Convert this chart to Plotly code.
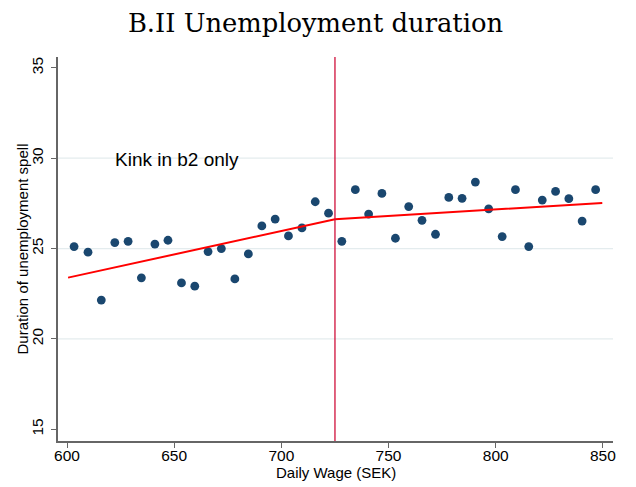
import plotly.graph_objects as go

wage = [603.3, 609.8, 616.0, 622.3, 628.5, 634.7, 641.0, 647.1, 653.4, 659.6,
        665.8, 672.0, 678.3, 684.6, 690.9, 697.1, 703.3, 709.6, 715.8, 722.0,
        728.2, 734.5, 740.7, 746.9, 753.2, 759.4, 765.6, 771.9, 778.1, 784.3,
        790.5, 796.7, 803.0, 809.2, 815.4, 821.7, 827.9, 834.1, 840.3, 846.6]
duration = [25.11, 24.80, 22.15, 25.33, 25.40, 23.38, 25.25, 25.46, 23.10, 22.92,
            24.83, 25.00, 23.32, 24.70, 26.25, 26.63, 25.70, 26.14, 27.59, 26.96,
            25.40, 28.26, 26.91, 28.05, 25.57, 27.32, 26.56, 25.79, 27.83, 27.78,
            28.68, 27.19, 25.66, 28.26, 25.11, 27.68, 28.16, 27.76, 26.52, 28.26]
fit_x = [600.5, 725.0, 849.7]
fit_y = [23.39, 26.62, 27.52]
kink = 725
x_ticks = [600, 650, 700, 750, 800, 850]
y_ticks = [15, 20, 25, 30, 35]
grid_y = [20, 25, 30]

fig = go.Figure()
for g in grid_y:
    fig.add_shape(type="line", x0=0, x1=1, xref="paper", y0=g, y1=g, yref="y",
                  line=dict(color="#e4ecee", width=1.2), layer="below")
fig.add_trace(go.Scatter(x=wage, y=duration, mode="markers",
                         marker=dict(color="#1a476f", size=8.8, line=dict(width=0)),
                         showlegend=False))
fig.add_trace(go.Scatter(x=fit_x, y=fit_y, mode="lines",
                         line=dict(color="#ff0000", width=2), showlegend=False))
fig.add_shape(type="line", x0=kink, x1=kink, y0=0, y1=1, xref="x", yref="paper",
              line=dict(color="#d0103a", width=1.3))
fig.add_annotation(x=651.5, y=29.95, text="Kink in b2 only", showarrow=False,
                   font=dict(family="Liberation Sans, Arial", size=19, color="#000"))
fig.add_annotation(x=0.5, xref="paper", y=-0.082, yref="paper", text="Daily Wage (SEK)",
                   showarrow=False, xanchor="center", yanchor="middle",
                   font=dict(family="Liberation Sans, Arial", size=15, color="#000"))
fig.add_annotation(x=-0.064, xref="paper", y=0.5, yref="paper",
                   text="Duration of unemployment spell", textangle=-90,
                   showarrow=False, xanchor="center", yanchor="middle",
                   font=dict(family="Liberation Sans, Arial", size=15, color="#000"))

fig.update_layout(
    width=620, height=479,
    margin=dict(l=50, r=15, t=49, b=46),
    paper_bgcolor="white", plot_bgcolor="white",
    title=dict(text="B.II Unemployment duration", x=0.496, xanchor="center",
               xref="container", y=1 - 15.0 / 479, yanchor="middle", yref="container",
               font=dict(family="DejaVu Serif, Liberation Serif, serif", size=25.8, color="#000")),
    font=dict(family="Liberation Sans, Arial", size=15.5, color="#000"),
    xaxis=dict(range=[595.8, 854.7], tickvals=x_ticks, showgrid=False, zeroline=False,
               showline=True, linecolor="#666", linewidth=1.5, automargin=False,
               ticks="outside", ticklen=5, tickcolor="#666", ticklabelstandoff=-5),
    yaxis=dict(range=[14.35, 35.6], tickvals=y_ticks, showgrid=False,
               zeroline=False, tickangle=-90, automargin=False,
               showline=True, linecolor="#666", linewidth=1.5,
               ticks="outside", ticklen=5, tickcolor="#666", ticklabelstandoff=2),
)
fig.write_html("out.html")
